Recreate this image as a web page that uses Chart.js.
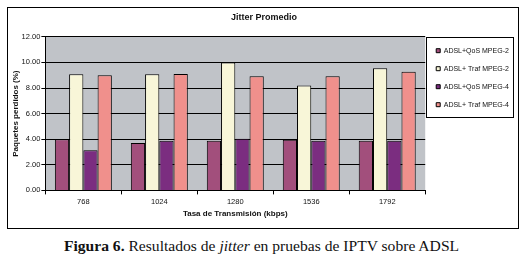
<!DOCTYPE html>
<html lang="es">

<head>
    <meta charset="UTF-8" />
    <title>Jitter Promedio</title>
    <script src="https://cdn.jsdelivr.net/npm/chart.js"></script>
    <style>
        body { margin: 0; background: #fff; width: 523px; height: 263px; overflow: hidden; }
        #marco { position: absolute; left: 0; top: 0; width: 523px; height: 232px; }
        #pie { position: absolute; left: 0; top: 237px; width: 523px; text-align: center;
               font-family: "Liberation Serif", serif; font-size: 15.6px; color: #111; }
    </style>
</head>

<body>
    <div id="marco"><canvas id="grafica" width="523" height="232"></canvas></div>
    <div id="pie"><b>Figura 6.</b> Resultados de <i>jitter</i> en pruebas de IPTV sobre ADSL</div>

    <script>
        // datos
        const tasas = ['768', '1024', '1280', '1536', '1792'];
        const series = ['ADSL+QoS MPEG-2', 'ADSL+ Traf MPEG-2', 'ADSL+QoS MPEG-4', 'ADSL+ Traf MPEG-4'];
        const qosMpeg2 = [4.00, 3.70, 3.88, 3.96, 3.88];
        const trafMpeg2 = [9.07, 9.07, 10.00, 8.20, 9.55];
        const qosMpeg4 = [3.14, 3.88, 4.04, 3.88, 3.88];
        const trafMpeg4 = [9.00, 9.10, 8.92, 8.92, 9.26];
        const colores = ['#a24f7c', '#f8f6d8', '#7b2d80', '#f0908c'];

        const fuente = 'Arial, "Liberation Sans", sans-serif';

        // fondo gris del area del grafico, marco exterior y caja de leyenda
        const fondo = {
            id: 'fondo',
            beforeDraw(chart) {
                const { ctx, chartArea: a } = chart;
                ctx.save();
                ctx.fillStyle = '#c0c3c8';
                ctx.fillRect(a.left, a.top, a.right - a.left, a.bottom - a.top);
                ctx.restore();
            },
            afterDraw(chart) {
                const ctx = chart.ctx;
                ctx.save();
                ctx.strokeStyle = '#000';
                ctx.lineWidth = 1;
                ctx.strokeRect(7.5, 7.5, 511, 221);
                const hb = chart.legend.legendHitBoxes;
                if (hb && hb.length) {
                    const top = Math.round(hb[0].top) - 9.5;
                    const last = hb[hb.length - 1];
                    const bottom = Math.round(last.top + last.height) + 9.5;
                    const left = Math.round(hb[0].left) - 9.5;
                    ctx.strokeRect(left, top, 87, bottom - top);
                }
                ctx.restore();
            }
        };

        const valores = [qosMpeg2, trafMpeg2, qosMpeg4, trafMpeg4];

        new Chart(document.getElementById('grafica').getContext('2d'), {
            type: 'bar',
            data: {
                labels: tasas,
                datasets: series.map((nombre, i) => ({
                    label: nombre,
                    data: valores[i],
                    backgroundColor: colores[i],
                    borderColor: '#000',
                    borderWidth: 1,
                    borderSkipped: 'bottom',
                    categoryPercentage: 0.75,
                    barPercentage: 1
                }))
            },
            options: {
                responsive: false,
                animation: false,
                layout: { padding: { top: 8, left: 9, right: 4, bottom: 13 } },
                plugins: {
                    title: {
                        display: true,
                        text: 'Jitter Promedio',
                        color: '#111',
                        font: { family: fuente, size: 9, weight: 'bold' },
                        padding: { top: 4, bottom: 14 }
                    },
                    legend: {
                        position: 'right',
                        align: 'start',
                        title: { display: true, text: ' ', font: { size: 1 }, padding: { top: 13, bottom: 14 } },
                        labels: {
                            boxWidth: 4,
                            boxHeight: 4,
                            padding: 11,
                            color: '#111',
                            font: { family: fuente, size: 7 }
                        }
                    },
                    tooltip: { enabled: false }
                },
                scales: {
                    x: {
                        grid: { display: true, drawOnChartArea: false, drawTicks: true, tickLength: 4, color: '#000', offset: true },
                        border: { color: '#000' },
                        ticks: { color: '#111', padding: 3, font: { family: fuente, size: 7.5 } },
                        title: {
                            display: true,
                            text: 'Tasa de Transmisión (kbps)',
                            color: '#111',
                            padding: { top: 0, bottom: 0 },
                            font: { family: fuente, size: 8, weight: 'bold' }
                        }
                    },
                    y: {
                        min: 0,
                        max: 12,
                        grid: { color: '#000', tickLength: 4 },
                        border: { color: '#000' },
                        ticks: {
                            stepSize: 2,
                            padding: 1,
                            color: '#111',
                            font: { family: fuente, size: 7.5 },
                            callback: v => v.toFixed(2)
                        },
                        title: {
                            display: true,
                            text: 'Paquetes perdidos (%)',
                            color: '#111',
                            padding: { top: 2, bottom: 0 },
                            font: { family: fuente, size: 8, weight: 'bold' }
                        }
                    }
                }
            },
            plugins: [fondo]
        });
    </script>
</body>

</html>
